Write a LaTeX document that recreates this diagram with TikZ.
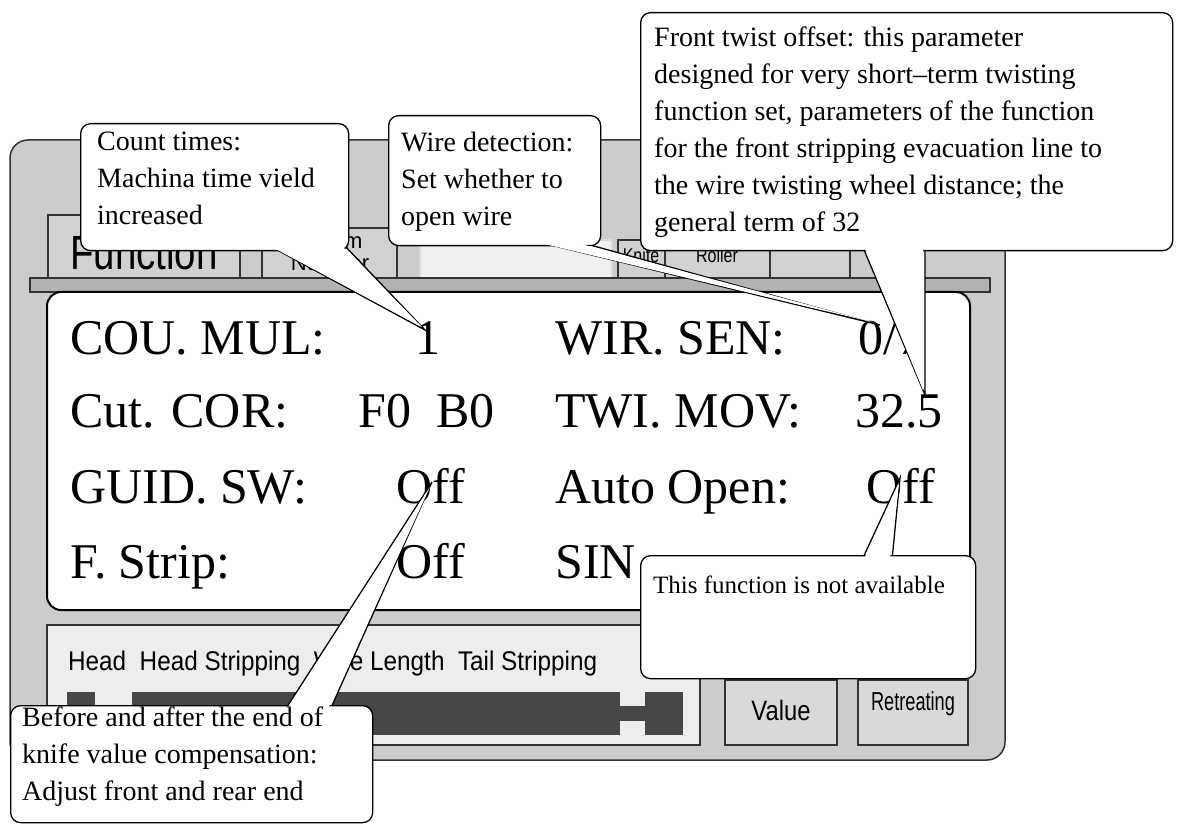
\documentclass[tikz,border=0pt]{standalone}
\usepackage{fontspec}
\setmainfont{Liberation Serif}
\setsansfont{Liberation Sans}
\begin{document}
\begin{tikzpicture}[x=1pt,y=-1pt,
  panel/.style={draw=black!80,line width=1.2pt},
  tab/.style={panel,fill=black!18},
  callout/.style={draw=black,line width=1.3pt,fill=white,rounded corners=10pt,align=left,anchor=north west,inner sep=0pt},
  ctext/.style={anchor=north west,align=left,inner sep=0pt,font=\fontsize{28}{37}\selectfont},
  tail/.style={draw=black,line width=1.3pt,fill=white,line join=miter},
  tailfill/.style={fill=white},
  scr/.style={anchor=base west,font=\fontsize{50}{50}\selectfont,inner sep=0pt},
  lbl/.style={font=\sffamily\fontsize{24}{24}\selectfont,inner sep=0pt}]
\useasboundingbox (0,0) rectangle (1179,826);
% device
\draw[panel,fill=black!20,rounded corners=18pt,line width=1.5pt] (10,140) rectangle (1005,760);
% tabs
\draw[tab] (48,215) rectangle (240,278);
\node[lbl,font=\sffamily\fontsize{48}{48}\selectfont,xscale=0.8] (tfun) at (144,252) {Function};
\draw[tab] (262,228) rectangle (397,278);
\node[lbl,align=center,font=\sffamily\fontsize{22}{22}\selectfont] (tpar) at (330,252) {Param\\Number};
\draw[panel,fill=black!6,draw=black!15] (420,240) rectangle (612,278);
\draw[tab] (618,240) rectangle (665,290);
\node[lbl,font=\sffamily\fontsize{20}{20}\selectfont,xscale=0.8] (tkn) at (641,255) {Knife};
\draw[tab] (665,240) rectangle (770,290);
\node[lbl,font=\sffamily\fontsize{20}{20}\selectfont,xscale=0.8] (tro) at (717,255) {Roller};
\draw[tab] (770,240) rectangle (850,290);
\draw[panel,fill=black!30] (30,278) rectangle (990,292);
% screen
\draw[line width=2pt,fill=white,rounded corners=14pt] (47,292) rectangle (970,610);
\node[scr] (a1) at (70,355) {COU. MUL:};
\node[scr] (v1) at (415,355) {1};
\node[scr] (b1) at (555,355) {WIR. SEN:};
\node[scr] (w1) at (858,355) {0/7};
\node[scr] (a2) at (70,428) {Cut. COR:};
\node[scr] (v2) at (358,428) {F0\ \ B0};
\node[scr] (b2) at (555,428) {TWI. MOV:};
\node[scr] (w2) at (855,428) {32.5};
\node[scr] (a3) at (70,503) {GUID. SW:};
\node[scr] (v3) at (396,503) {Off};
\node[scr] (b3) at (555,503) {Auto Open:};
\node[scr] (w3) at (866,503) {Off};
\node[scr] (a4) at (70,578) {F. Strip:};
\node[scr] (v4) at (396,578) {Off};
\node[scr] (b4) at (555,578) {SIN};
% bottom panel
\draw[panel,fill=black!7] (47,625) rectangle (700,745);
\node[lbl,anchor=base west,font=\sffamily\fontsize{27}{27}\selectfont,xscale=0.9] (bl) at (68,670) {Head\ \ Head Stripping\ \ Wrie Length\ \ Tail Stripping};
\fill[black!72] (67,692) rectangle (95,735);
\fill[black!72] (132,692) rectangle (620,735);
\fill[black!72] (620,706) rectangle (645,721);
\fill[black!72] (645,692) rectangle (683,735);
\draw[tab,fill=black!15] (725,680) rectangle (837,745);
\node[lbl,font=\sffamily\fontsize{28}{28}\selectfont,xscale=0.85] (bv) at (781,710) {Value};
\draw[tab,fill=black!15] (858,680) rectangle (968,745);
\node[lbl,font=\sffamily\fontsize{26}{26}\selectfont,xscale=0.7] (br) at (913,704) {Retreating};
% callouts
\coordinate (t1) at (425,330);
\draw[tail] (268,245) -- (t1) -- (344,245);
\node[callout,minimum width=268pt,minimum height=127pt] (c1) at (80,123) {};
\fill[tailfill] (270,246) -- (422,327) -- (342,246) -- cycle;
\node[ctext] (c1t) at (97,132) {Count times:\\Machina time vield\\increased};
\coordinate (t2) at (880,325);
\draw[tail] (530,240) -- (t2) -- (572,240);
\node[callout,minimum width=212pt,minimum height=130pt] (c2) at (388,115) {};
\fill[tailfill] (532,241) -- (876,323) -- (570,241) -- cycle;
\node[ctext] (c2t) at (401,132) {Wire detection:\\Set whether to\\open wire};
\coordinate (t3) at (925,395);
\draw[tail] (862,245) -- (t3) -- (925,245);
\node[callout,minimum width=532pt,minimum height=238pt] (c3) at (640,12) {};
\fill[tailfill] (864,246) -- (923,390) -- (923,246) -- cycle;
\node[ctext] (c3t) at (654,27) {Front twist offset: this parameter\\designed for very short--term twisting\\function set, parameters of the function\\for the front stripping evacuation line to\\the wire twisting wheel distance; the\\general term of 32};
\coordinate (t4) at (900,478);
\draw[tail] (862,560) -- (t4) -- (892,560);
\node[callout,minimum width=335pt,minimum height=123pt] (c4) at (640,555) {};
\fill[tailfill] (864,559) -- (899,484) -- (890,559) -- cycle;
\node[anchor=north west,font=\fontsize{25}{28}\selectfont,inner sep=0pt] (c4t) at (653,576) {This function is not available};
\coordinate (t5) at (432,482);
\draw[tail] (285,710) -- (t5) -- (330,710);
\node[callout,minimum width=362pt,minimum height=117pt] (c5) at (10,705) {};
\fill[tailfill] (287,709) -- (430,487) -- (328,709) -- cycle;
\node[ctext] (c5t) at (22,707) {Before and after the end of\\knife value compensation:\\Adjust front and rear end};
\end{tikzpicture}
\end{document}
